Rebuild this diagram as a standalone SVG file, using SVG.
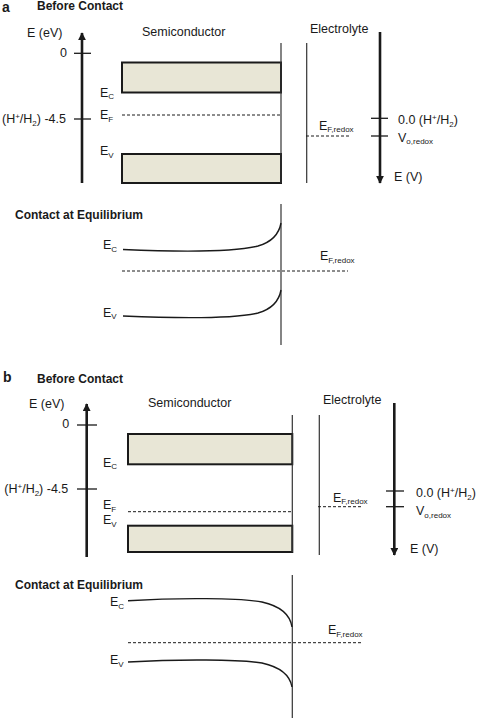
<svg xmlns="http://www.w3.org/2000/svg" width="480" height="718" viewBox="0 0 480 718">
<style>
text{font-family:"Liberation Sans",Arial,sans-serif;font-size:12.5px;fill:#1a1a1a}
.b{font-weight:bold;font-size:12px}
.lt{font-weight:bold;font-size:14px}
.sub{font-size:8px}
.sup{font-size:8px}
.axis{stroke:#1a1a1a;stroke-width:2.6;fill:none}
.tick{stroke:#1a1a1a;stroke-width:1.3}
.band{fill:#e8e6d6;stroke:#1a1a1a;stroke-width:2}
.iface{stroke:#333;stroke-width:1.2}
.dash{stroke:#1a1a1a;stroke-width:1;stroke-dasharray:3 2}
.curve{stroke:#1a1a1a;stroke-width:1.4;fill:none}
</style>
<defs>
<marker id="ah" viewBox="0 0 10 10" refX="9" refY="5" markerWidth="3" markerHeight="3.2" orient="auto" markerUnits="strokeWidth">
<path d="M0,0 L10,5 L0,10 z" fill="#1a1a1a"/>
</marker>
</defs>

<!-- Panel a -->
<g id="panel-a-title">
<text class="lt" x="2" y="11.7">a</text>
<text class="b" x="37" y="10">Before Contact</text>
</g>
<g id="a-energy-axis">
<line class="axis" x1="82" y1="183" x2="82" y2="33" marker-end="url(#ah)"/>
<line class="tick" x1="74" y1="53.3" x2="91" y2="53.3"/>
<line class="tick" x1="74" y1="119" x2="91" y2="119"/>
<text x="27" y="37">E (eV)</text>
<text x="67" y="57" text-anchor="end">0</text>
<text x="66" y="123" text-anchor="end">(H<tspan class="sup" dy="-4">+</tspan><tspan dy="4">/H</tspan><tspan class="sub" dy="3">2</tspan><tspan dy="-3">) -4.5</tspan></text>
</g>
<g id="a-semiconductor">
<text x="142" y="36">Semiconductor</text>
<rect class="band" x="122" y="62.5" width="159" height="30"/>
<rect class="band" x="122" y="154" width="159" height="29"/>
<line class="dash" x1="122" y1="115" x2="280" y2="115"/>
<text x="100" y="96.7">E<tspan class="sub" dy="2.5">C</tspan></text>
<text x="100" y="119.3">E<tspan class="sub" dy="2.5">F</tspan></text>
<text x="100" y="155">E<tspan class="sub" dy="2.5">V</tspan></text>
<line class="iface" x1="281" y1="43" x2="281" y2="183"/>
</g>
<g id="a-electrolyte">
<line class="iface" x1="306.7" y1="43" x2="306.7" y2="183"/>
<text x="310" y="32.5">Electrolyte</text>
<line class="dash" x1="306" y1="136" x2="350" y2="136"/>
<text x="319" y="129.5">E<tspan class="sub" dy="2.5">F,redox</tspan></text>
</g>
<g id="a-potential-axis">
<line class="axis" x1="380" y1="32" x2="380" y2="183" marker-end="url(#ah)"/>
<line class="tick" x1="371" y1="118.3" x2="388" y2="118.3"/>
<line class="tick" x1="371" y1="136" x2="388" y2="136"/>
<text x="398" y="124">0.0 (H<tspan class="sup" dy="-4">+</tspan><tspan dy="4">/H</tspan><tspan class="sub" dy="3">2</tspan><tspan dy="-3">)</tspan></text>
<text x="398" y="141.5">V<tspan class="sub" dy="2.5">o,redox</tspan></text>
<text x="394" y="181">E (V)</text>
</g>
<g id="a-equilibrium">
<text class="b" x="15" y="219">Contact at Equilibrium</text>
<line class="iface" x1="281" y1="204" x2="281" y2="345"/>
<line class="dash" x1="122" y1="271" x2="348" y2="271"/>
<path class="curve" d="M123,249.5 C170,251.5 230,253 258,246 C272,242 279,234 281,223"/>
<path class="curve" d="M123,316 C170,318 230,319.5 258,313 C272,309 279,301 281,290"/>
<text x="103" y="249">E<tspan class="sub" dy="2.5">C</tspan></text>
<text x="103" y="316.5">E<tspan class="sub" dy="2.5">V</tspan></text>
<text x="320" y="260">E<tspan class="sub" dy="2.5">F,redox</tspan></text>
</g>

<!-- Panel b -->
<g id="panel-b-title">
<text class="lt" x="3" y="381.7">b</text>
<text class="b" x="37" y="382.7">Before Contact</text>
</g>
<g id="b-energy-axis">
<line class="axis" x1="86.7" y1="557" x2="86.7" y2="404" marker-end="url(#ah)"/>
<line class="tick" x1="77" y1="425" x2="97" y2="425"/>
<line class="tick" x1="77" y1="489" x2="97" y2="489"/>
<text x="29" y="408.3">E (eV)</text>
<text x="69.3" y="428.3" text-anchor="end">0</text>
<text x="68.3" y="492.7" text-anchor="end">(H<tspan class="sup" dy="-4">+</tspan><tspan dy="4">/H</tspan><tspan class="sub" dy="3">2</tspan><tspan dy="-3">) -4.5</tspan></text>
</g>
<g id="b-semiconductor">
<text x="148" y="407">Semiconductor</text>
<rect class="band" x="128" y="434" width="164.3" height="30.3"/>
<rect class="band" x="128" y="525.7" width="164.3" height="26.3"/>
<line class="dash" x1="128" y1="511.7" x2="292" y2="511.7"/>
<text x="103" y="466.7">E<tspan class="sub" dy="2.5">C</tspan></text>
<text x="103" y="509">E<tspan class="sub" dy="2.5">F</tspan></text>
<text x="103" y="524.3">E<tspan class="sub" dy="2.5">V</tspan></text>
<line class="iface" x1="292.3" y1="415" x2="292.3" y2="552"/>
</g>
<g id="b-electrolyte">
<line class="iface" x1="319.3" y1="415" x2="319.3" y2="555"/>
<text x="323" y="404.3">Electrolyte</text>
<line class="dash" x1="318" y1="506.7" x2="363" y2="506.7"/>
<text x="333" y="501.5">E<tspan class="sub" dy="2.5">F,redox</tspan></text>
</g>
<g id="b-potential-axis">
<line class="axis" x1="394.3" y1="403" x2="394.3" y2="555" marker-end="url(#ah)"/>
<line class="tick" x1="386" y1="491" x2="404" y2="491"/>
<line class="tick" x1="386" y1="506.7" x2="404" y2="506.7"/>
<text x="416" y="496.5">0.0 (H<tspan class="sup" dy="-4">+</tspan><tspan dy="4">/H</tspan><tspan class="sub" dy="3">2</tspan><tspan dy="-3">)</tspan></text>
<text x="416" y="515">V<tspan class="sub" dy="2.5">o,redox</tspan></text>
<text x="410" y="553">E (V)</text>
</g>
<g id="b-equilibrium">
<text class="b" x="15" y="589.3">Contact at Equilibrium</text>
<line class="iface" x1="292.3" y1="575" x2="292.3" y2="718"/>
<line class="dash" x1="128" y1="642.7" x2="362" y2="642.7"/>
<path class="curve" d="M128,600.7 C180,597.5 240,598 262,602 C280,606 290,614 292,627"/>
<path class="curve" d="M128,662 C180,659 240,659.5 262,663 C280,667 290,675 292,687"/>
<text x="110" y="606">E<tspan class="sub" dy="2.5">C</tspan></text>
<text x="110" y="664">E<tspan class="sub" dy="2.5">V</tspan></text>
<text x="328" y="634">E<tspan class="sub" dy="2.5">F,redox</tspan></text>
</g>
</svg>
